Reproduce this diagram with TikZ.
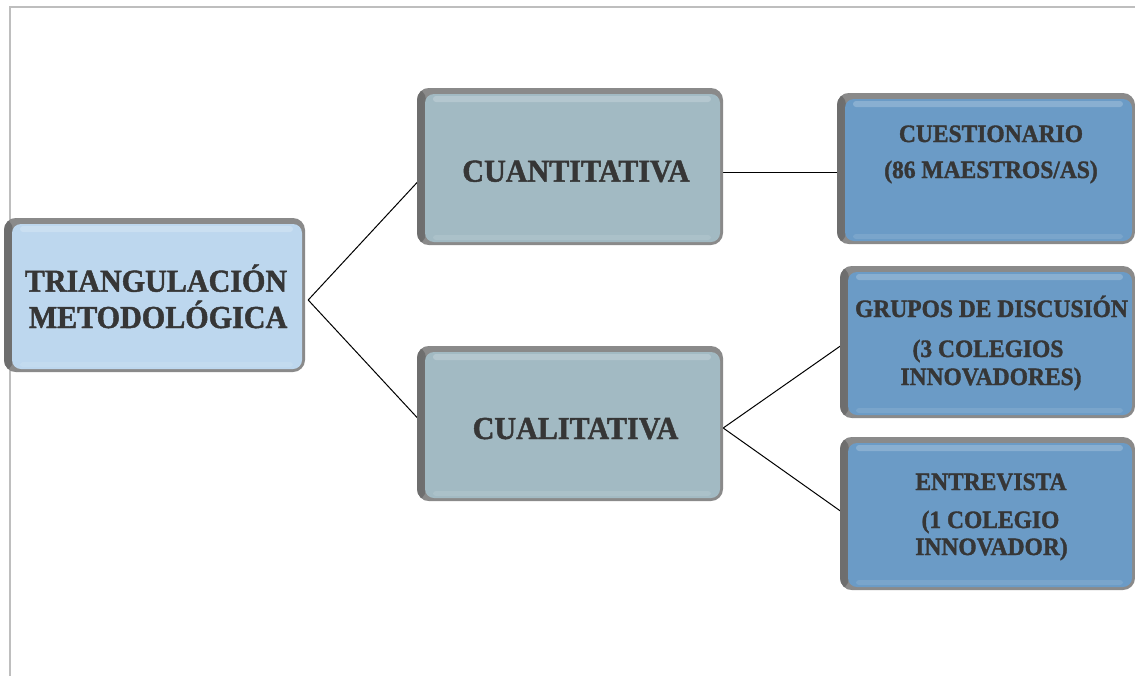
\documentclass[tikz,border=0pt]{standalone}
\usepackage{fontspec}
\setmainfont{Liberation Serif}
\newfontfamily\boxfont{Liberation Serif}[FakeStretch=0.94, BoldFeatures={FakeBold=1.4}]
\usetikzlibrary{calc,backgrounds}

\definecolor{frameline}{HTML}{BEBEBE}
\definecolor{bevel}{HTML}{8A8A8A}
\definecolor{beveldark}{HTML}{6E6E6E}
\definecolor{rootfill}{HTML}{BDD7EE}
\definecolor{midfill}{HTML}{A2BAC3}
\definecolor{leaffill}{HTML}{6B9BC6}
\definecolor{ink}{HTML}{363636}

\tikzset{
  % raised box: grey bevel rim, darker left edge, coloured face with a soft top highlight
  bevelbox/.style={
    fill=bevel, rounded corners=12pt, inner sep=0pt,
    path picture={
      \shade[left color=beveldark, right color=bevel]
        (path picture bounding box.south west) rectangle
        ($(path picture bounding box.north west)+(9pt,0pt)$);
      \fill[#1, rounded corners=9pt]
        ($(path picture bounding box.south west)+(8pt,3pt)$) rectangle
        ($(path picture bounding box.north east)+(-3pt,-6pt)$);
      \fill[#1!55!white, opacity=0.45, rounded corners=3pt]
        ($(path picture bounding box.north west)+(16pt,-8pt)$) rectangle
        ($(path picture bounding box.north east)+(-12pt,-14pt)$);
      \fill[#1!70!white, opacity=0.35, rounded corners=3pt]
        ($(path picture bounding box.south west)+(16pt,5pt)$) rectangle
        ($(path picture bounding box.south east)+(-12pt,10pt)$);
    }},
  bigtext/.style={text=ink, anchor=base, inner sep=0pt,
    font=\boxfont\fontsize{32}{36}\selectfont\bfseries},
  smalltext/.style={text=ink, anchor=base, inner sep=0pt,
    font=\boxfont\fontsize{25}{28}\selectfont\bfseries},
  link/.style={draw=black, line width=1pt}
}

\begin{document}
\begin{tikzpicture}[x=1pt, y=-1pt]
\useasboundingbox (0,0) rectangle (1135,675);

% page frame
\draw[frameline, line width=2pt] (10,676) -- (10,6.5) -- (1136,6.5);

% boxes
\node[bevelbox=rootfill, minimum width=301pt, minimum height=154pt] (tri)  at (154.5,295) {};
\node[bevelbox=midfill,  minimum width=306pt, minimum height=157pt] (cuan) at (570,166.5) {};
\node[bevelbox=midfill,  minimum width=306pt, minimum height=155pt] (cual) at (570,423.5) {};
\node[bevelbox=leaffill, minimum width=298pt, minimum height=151pt] (cues) at (986,168.5) {};
\node[bevelbox=leaffill, minimum width=295pt, minimum height=152pt] (grup) at (987.5,342) {};
\node[bevelbox=leaffill, minimum width=295pt, minimum height=153pt] (entr) at (987.5,513.5) {};

% labels
\node[bigtext] (tri1) at (156,291.7) {TRIANGULACIÓN};
\node[bigtext] (tri2) at (158,328) {METODOLÓGICA};
\node[bigtext] (cuan1) at (576,181.7) {CUANTITATIVA};
\node[bigtext] (cual1) at (575.5,439) {CUALITATIVA};

\node[smalltext] (cues1) at (991,142) {CUESTIONARIO};
\node[smalltext] (cues2) at (991,178) {(86 MAESTROS/AS)};

\node[smalltext] (grup1) at (991.5,317) {GRUPOS DE DISCUSIÓN};
\node[smalltext] (grup2) at (988,357) {(3 COLEGIOS};
\node[smalltext] (grup3) at (991,385) {INNOVADORES)};

\node[smalltext] (entr1) at (991,490) {ENTREVISTA};
\node[smalltext] (entr2) at (990.5,528) {(1 COLEGIO};
\node[smalltext] (entr3) at (991.5,555) {INNOVADOR)};

% connectors, drawn beneath the boxes
\begin{scope}[on background layer]
\draw[link] ([shift={(3pt,-5pt)}]tri.east) -- ([shift={(10pt,-5.5pt)}]cuan.west);
\draw[link] ([shift={(3pt,-5pt)}]tri.east) -- ([shift={(10pt,-4.5pt)}]cual.west);
\draw[link] ([shift={(0pt,-5.5pt)}]cuan.east) -- ([shift={(3pt,-3.5pt)}]cues.west);
\draw[link] ([shift={(0pt,-4.5pt)}]cual.east) -- ([shift={(2pt,-3pt)}]grup.west);
\draw[link] ([shift={(0pt,-4.5pt)}]cual.east) -- ([shift={(2pt,1.5pt)}]entr.west);
\end{scope}
\end{tikzpicture}
\end{document}
